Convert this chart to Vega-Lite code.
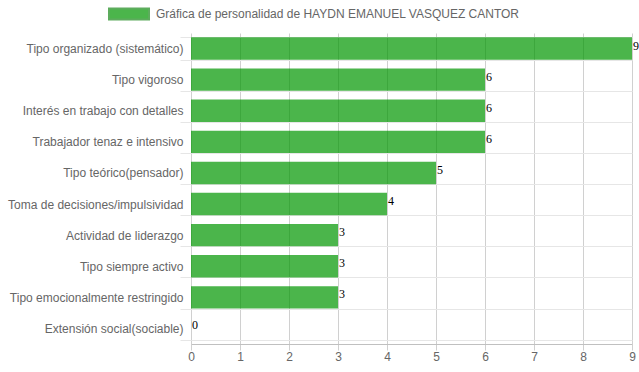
{
  "$schema": "https://vega.github.io/schema/vega-lite/v6.json",
  "autosize": {"type": "none"},
  "padding": {"left": 191, "top": 33, "right": 7, "bottom": 28},
  "width": 441,
  "height": 311,
  "background": "white",
  "config": {"view": {"stroke": null}, "legend": {"symbolStrokeColor": "#1a8a1a", "symbolStrokeWidth": 2}},
  "data": {
    "values": [
      {"rasgo": "Tipo organizado (sistemático)", "valor": 9},
      {"rasgo": "Tipo vigoroso", "valor": 6},
      {"rasgo": "Interés en trabajo con detalles", "valor": 6},
      {"rasgo": "Trabajador tenaz e intensivo", "valor": 6},
      {"rasgo": "Tipo teórico(pensador)", "valor": 5},
      {"rasgo": "Toma de decisiones/impulsividad", "valor": 4},
      {"rasgo": "Actividad de liderazgo", "valor": 3},
      {"rasgo": "Tipo siempre activo", "valor": 3},
      {"rasgo": "Tipo emocionalmente restringido", "valor": 3},
      {"rasgo": "Extensión social(sociable)", "valor": 0}
    ]
  },
  "encoding": {
    "y": {
      "field": "rasgo",
      "type": "nominal",
      "sort": null,
      "scale": {"paddingInner": 0.28, "paddingOuter": 0.14},
      "axis": {
        "title": null,
        "domain": false,
        "grid": true,
        "gridColor": "#e6e6e6",
        "tickBand": "extent",
        "ticks": true,
        "tickSize": 11,
        "tickColor": "#e6e6e6",
        "labelPadding": -3,
        "labelFont": "Liberation Sans",
        "labelFontSize": 12,
        "labelColor": "#666666"
      }
    },
    "x": {
      "field": "valor",
      "type": "quantitative",
      "scale": {"domain": [0, 9], "nice": false},
      "axis": {
        "title": null,
        "values": [0, 1, 2, 3, 4, 5, 6, 7, 8, 9],
        "grid": true,
        "gridColor": "#d0d0d0",
        "domainColor": "#c0c0c0",
        "tickColor": "#d0d0d0",
        "tickSize": 6,
        "labelPadding": 1,
        "labelFont": "Liberation Sans",
        "labelFontSize": 12,
        "labelColor": "#666666",
        "labelFlush": false
      }
    }
  },
  "layer": [
    {
      "mark": {"type": "bar", "opacity": 0.7, "stroke": "#1a8a1a", "strokeWidth": 2, "strokeOpacity": 0},
      "encoding": {
        "color": {
          "datum": "Gráfica de personalidad de HAYDN EMANUEL VASQUEZ CANTOR",
          "type": "nominal",
          "scale": {"range": ["#009600"]},
          "legend": {
            "title": null,
            "orient": "none",
            "legendX": -83,
            "legendY": -40,
            "padding": 0,
            "symbolType": "M-1,-0.28H1V0.28H-1Z",
            "symbolSize": 1600,
            "labelFont": "Liberation Sans",
            "labelFontSize": 12,
            "labelColor": "#666666",
            "labelOffset": 6,
            "labelLimit": 600,
            "encode": {
              "symbols": {
                "update": {
                  "stroke": {"value": "#1a8a1a"},
                  "strokeWidth": {"value": 2},
                  "strokeOpacity": {"value": 1},
                  "opacity": {"value": 1}
                }
              }
            }
          }
        }
      }
    },
    {
      "mark": {
        "type": "text",
        "align": "left",
        "baseline": "middle",
        "dx": 1,
        "dy": -3,
        "font": "Liberation Serif",
        "fontSize": 12,
        "color": "#000000"
      },
      "encoding": {"text": {"field": "valor", "type": "quantitative"}}
    }
  ]
}
